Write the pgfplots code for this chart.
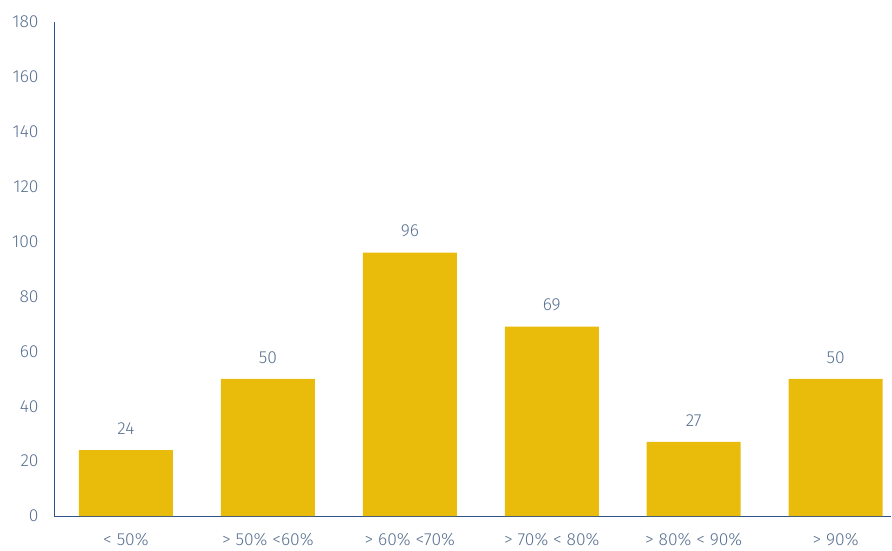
\documentclass[border=0pt]{standalone}
\usepackage{fontspec}
\setmainfont{Fira Sans}[UprightFont=* Light]
\usepackage{pgfplots}
\pgfplotsset{compat=1.18}
\definecolor{barc}{HTML}{E9BC0C}
\definecolor{txt}{HTML}{587090}
\definecolor{axc}{HTML}{2E5288}
\begin{document}
\begin{tikzpicture}
\begin{axis}[
  scale only axis,
  width=837bp, height=494bp,
  anchor=south west, at={(0,0)},
  xmin=-0.507, xmax=5.39,
  ymin=0, ymax=180,
  ytick={0,20,...,180},
  xtick=data,
  xticklabels={{< 50\%},{> 50\% <60\%},{> 60\% <70\%},{> 70\% < 80\%},{> 80\% < 90\%},{> 90\%}},
  axis lines=left,
  axis line style={-, draw=axc, line width=1pt},
  major tick length=0pt,
  /pgf/number format/assume math mode=true,
  tick label style={font=\fontsize{17.5}{20}\selectfont, text=txt},
  yticklabel style={xshift=-12bp},
  xticklabel style={inner sep=0pt, yshift=-17.5bp},
  ybar, bar width=0.662,
  nodes near coords,
  nodes near coords style={font=\fontsize{17.5}{20}\selectfont, text=txt, anchor=south, yshift=12bp},
]
\addplot[fill=barc, draw=none] coordinates {(0,24) (1,50) (2,96) (3,69) (4,27) (5,50)};
\end{axis}
\pgfresetboundingbox
\path[use as bounding box] (-54bp,-35bp) rectangle (838bp,516bp);
\end{tikzpicture}
\end{document}
